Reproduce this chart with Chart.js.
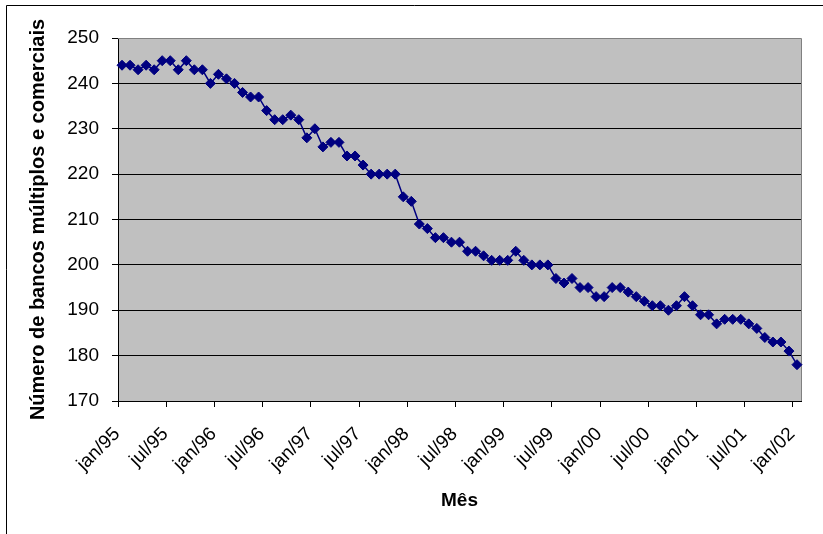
<!DOCTYPE html>
<html><head><meta charset="utf-8">
<script src="https://cdn.jsdelivr.net/npm/chart.js@4"></script>
<style>html,body{margin:0;padding:0;background:#fff}canvas{display:block}</style>
</head><body>
<canvas id="c" width="823" height="534"></canvas>
<script>
const months = [
 'jan/95','fev/95','mar/95','abr/95','mai/95','jun/95','jul/95','ago/95','set/95','out/95','nov/95','dez/95',
 'jan/96','fev/96','mar/96','abr/96','mai/96','jun/96','jul/96','ago/96','set/96','out/96','nov/96','dez/96',
 'jan/97','fev/97','mar/97','abr/97','mai/97','jun/97','jul/97','ago/97','set/97','out/97','nov/97','dez/97',
 'jan/98','fev/98','mar/98','abr/98','mai/98','jun/98','jul/98','ago/98','set/98','out/98','nov/98','dez/98',
 'jan/99','fev/99','mar/99','abr/99','mai/99','jun/99','jul/99','ago/99','set/99','out/99','nov/99','dez/99',
 'jan/00','fev/00','mar/00','abr/00','mai/00','jun/00','jul/00','ago/00','set/00','out/00','nov/00','dez/00',
 'jan/01','fev/01','mar/01','abr/01','mai/01','jun/01','jul/01','ago/01','set/01','out/01','nov/01','dez/01',
 'jan/02'
];
const banks = [
 244,244,243,244,243,245,245,243,245,243,243,240,
 242,241,240,238,237,237,234,232,232,233,232,228,
 230,226,227,227,224,224,222,220,220,220,220,215,
 214,209,208,206,206,205,205,203,203,202,201,201,
 201,203,201,200,200,200,197,196,197,195,195,193,
 193,195,195,194,193,192,191,191,190,191,193,191,
 189,189,187,188,188,188,187,186,184,183,183,181,
 178
];
const tickLabels = ['jan/95','jul/95','jan/96','jul/96','jan/97','jul/97','jan/98','jul/98',
 'jan/99','jul/99','jan/00','jul/00','jan/01','jul/01','jan/02'];
const yMin = 170, yMax = 250, yStep = 10;
const yTitle = 'Número de bancos múltiplos e comerciais';
const xTitle = 'Mês';

const FONT = 'Liberation Sans, Arial, sans-serif';

const frame = {
  id: 'frame',
  beforeDraw(chart) {
    const {ctx, chartArea: a} = chart;
    ctx.save();
    ctx.fillStyle = '#ffffff';
    ctx.fillRect(0, 0, chart.width, chart.height);
    ctx.fillStyle = '#C0C0C0';
    ctx.fillRect(a.left, a.top, a.right - a.left, a.bottom - a.top);
    ctx.restore();
  },
  beforeDatasetsDraw(chart) {
    const {ctx, chartArea: a} = chart;
    ctx.save();
    ctx.strokeStyle = '#808080';
    ctx.lineWidth = 1;
    ctx.beginPath();
    ctx.moveTo(Math.round(a.left), Math.round(a.top) + 0.5);
    ctx.lineTo(Math.round(a.right) + 0.5, Math.round(a.top) + 0.5);
    ctx.lineTo(Math.round(a.right) + 0.5, Math.round(a.bottom));
    ctx.stroke();
    ctx.restore();
  },
  afterDraw(chart) {
    const {ctx} = chart;
    ctx.save();
    ctx.strokeStyle = '#000';
    ctx.lineWidth = 1;
    ctx.beginPath();
    ctx.moveTo(6.5, chart.height);
    ctx.lineTo(6.5, 5.5);
    ctx.lineTo(chart.width, 5.5);
    ctx.stroke();
    ctx.restore();
  }
};

new Chart(document.getElementById('c'), {
  type: 'line',
  data: {
    labels: months,
    datasets: [{
      data: banks,
      borderColor: '#000080',
      backgroundColor: '#000080',
      borderWidth: 1.5,
      pointStyle: 'rectRot',
      pointRadius: 5,
      pointBorderWidth: 1,
      pointBackgroundColor: '#000080',
      pointBorderColor: '#000080',
      tension: 0,
      fill: false
    }]
  },
  options: {
    responsive: false,
    animation: false,
    layout: {padding: {left: 0, top: 38, right: 22, bottom: 0}},
    plugins: {legend: {display: false}, tooltip: {enabled: false}},
    scales: {
      x: {
        type: 'category',
        offset: true,
        grid: {
          offset: true,
          drawOnChartArea: false,
          drawTicks: true,
          tickLength: 6,
          tickColor: (ctx) => (ctx.index !== undefined && tickLabels.includes(months[ctx.index])) ? '#000' : 'rgba(0,0,0,0)'
        },
        border: {display: true, color: '#000', width: 1},
        ticks: {
          autoSkip: false,
          minRotation: 45,
          maxRotation: 45,
          padding: 16,
          labelOffset: -5,
          color: '#000',
          font: {family: FONT, size: 19},
          callback: function(v, i) { const l = months[i]; return tickLabels.includes(l) ? l : ''; }
        },
        title: {
          display: true, text: xTitle, color: '#000',
          font: {family: FONT, size: 19, weight: 'bold'},
          padding: {top: 0, bottom: 21.5}
        },
        afterFit(scale) { scale.height = 133; scale.paddingLeft = 0; scale.paddingRight = 0; }
      },
      y: {
        min: yMin, max: yMax,
        grid: {
          color: (ctx) => (ctx.tick && ctx.tick.value === yMax) ? '#808080' : '#000',
          tickColor: '#000',
          lineWidth: 1,
          tickLength: 6,
          drawTicks: true
        },
        border: {display: true, color: '#000', width: 1},
        ticks: {
          stepSize: yStep,
          padding: 13,
          color: '#000',
          font: {family: FONT, size: 19}
        },
        title: {
          display: true, text: yTitle, color: '#000',
          font: {family: FONT, size: 20, weight: 'bold'},
          padding: {top: 26, bottom: 0}
        },
        afterFit(scale) { scale.width = 118; scale.paddingTop = 0; scale.paddingBottom = 0; }
      }
    }
  },
  plugins: [frame]
});
</script>
</body></html>
